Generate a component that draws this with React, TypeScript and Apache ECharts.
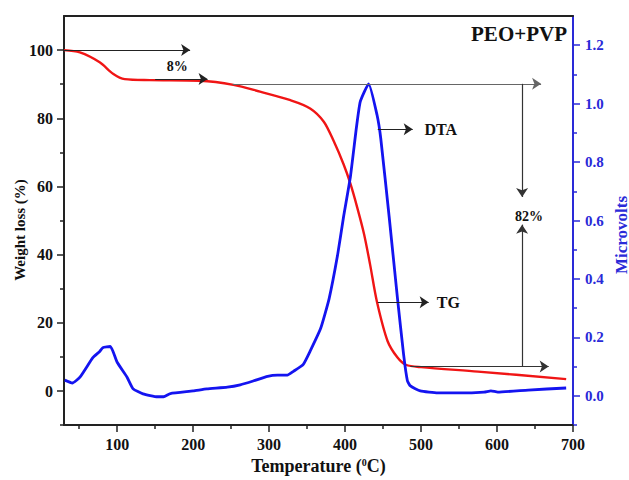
import React, { useEffect, useRef } from "react";
import * as echarts from "echarts";

// TG curve (weight %, left axis)
const tgTemp = [30, 51, 77, 95, 110, 143, 209, 253, 288, 328, 354, 372, 385, 398, 407, 416, 425, 433, 442, 456, 469, 480, 500, 575, 691];
const tgWeight = [100, 99.3, 96.4, 93, 91.5, 91.2, 91, 89.8, 87.8, 85.3, 82.9, 79.0, 73.3, 66.5, 60.8, 53.8, 46.0, 37.0, 26.1, 14.6, 9.8, 7.7, 7.0, 5.7, 3.5];

// DTA curve (microvolts, right axis)
const dtaTemp = [31, 41, 51, 68, 77, 81, 91, 100, 113, 121, 134, 153, 161, 170, 200, 218, 245, 262, 279, 298, 311, 324, 332, 345, 354, 368, 379, 390, 398, 407, 415, 420, 431, 442, 447, 458, 469, 477, 482, 486, 499, 522, 552, 583, 592, 601, 641, 691];
const dtaValue = [0.054, 0.044, 0.064, 0.131, 0.152, 0.165, 0.169, 0.115, 0.064, 0.024, 0.007, -0.003, -0.003, 0.008, 0.017, 0.024, 0.03, 0.038, 0.051, 0.067, 0.071, 0.071, 0.084, 0.108, 0.153, 0.232, 0.333, 0.48, 0.613, 0.75, 0.92, 1.007, 1.068, 0.962, 0.88, 0.613, 0.333, 0.142, 0.052, 0.034, 0.017, 0.01, 0.01, 0.013, 0.017, 0.013, 0.02, 0.027];

// tick labels
const xTicks = [100, 200, 300, 400, 500, 600, 700];
const xMinorTicks = [50, 150, 250, 350, 450, 550, 650];
const leftTicks = [0, 20, 40, 60, 80, 100];
const leftMinorTicks = [-10, 10, 30, 50, 70, 90];
const rightTicks = [0, 0.2, 0.4, 0.6, 0.8, 1.0, 1.2];
const rightMinorTicks = [-0.1, 0.1, 0.3, 0.5, 0.7, 0.9, 1.1];

// annotation arrows in (temperature, weight %) coordinates
const arrowStarts = [[30, 100], [150, 91.5], [252, 90.1], [633, 90.1], [633, 7.2], [486, 7.2], [443, 76.8], [443, 26]];
const arrowEnds = [[196, 100], [219, 91.5], [658, 90.1], [633, 56.9], [633, 48.8], [668, 7.2], [489, 76.8], [510, 26]];
const arrowColors = ["#222", "#222", "#666", "#333", "#333", "#333", "#222", "#222"];

// annotation texts
const noteTexts = ["8%", "DTA", "TG", "82%"];
const notePos = [[179, 95.3], [526, 76.8], [536, 26.0], [642, 51.1]];
const noteSizes = [14, 16, 16, 14];

const FONT = '"Liberation Serif", "Times New Roman", serif';
const BLUE_AXIS = "#2a2ad8";
const BLUE_LINE = "#1414f0";
const RED_LINE = "#f01515";

export default function App() {
  const ref = useRef<HTMLDivElement>(null);

  useEffect(() => {
    document.body.style.margin = "0";
    if (!ref.current) return;
    const chart = echarts.init(ref.current, null, { renderer: "svg" });

    const blackLabel = { fontFamily: FONT, fontWeight: "bold", fontSize: 16, color: "#111" };

    const option: any = {
      animation: false,
      backgroundColor: "#fff",
      title: {
        text: "PEO+PVP",
        right: 57,
        top: 18,
        textStyle: { fontFamily: FONT, fontWeight: "bold", fontSize: 21, color: "#111" },
      },
      grid: { left: 64, right: 56, top: 16, bottom: 48 },
      xAxis: [
        {
          type: "value",
          min: 30,
          max: 700,
          position: "bottom",
          axisLine: { onZero: false, lineStyle: { color: "#222", width: 2 } },
          axisTick: { customValues: xTicks, length: 7, lineStyle: { color: "#222", width: 1.5 } },
          axisLabel: { customValues: xTicks, margin: 11, ...blackLabel },
          splitLine: { show: false },
          name: "{a|Temperature (}{s|0}{a|C)}",
          nameLocation: "middle",
          nameGap: 26,
          nameTextStyle: {
            rich: {
              a: { fontFamily: FONT, fontWeight: "bold", fontSize: 18, color: "#111" },
              s: { fontFamily: FONT, fontWeight: "bold", fontSize: 10, color: "#111", verticalAlign: "top" },
            },
          },
        },
        {
          type: "value",
          min: 30,
          max: 700,
          position: "bottom",
          axisLine: { show: false, onZero: false },
          axisTick: { customValues: xMinorTicks, length: 4, lineStyle: { color: "#222", width: 1.5 } },
          axisLabel: { show: false },
          splitLine: { show: false },
        },
        {
          type: "value",
          min: 30,
          max: 700,
          position: "top",
          axisLine: { onZero: false, lineStyle: { color: "#222", width: 2 } },
          axisTick: { show: false },
          axisLabel: { show: false },
          splitLine: { show: false },
        },
      ],
      yAxis: [
        {
          type: "value",
          min: -10,
          max: 110,
          position: "left",
          axisLine: { show: true, onZero: false, lineStyle: { color: "#222", width: 2 } },
          axisTick: { show: true, customValues: leftTicks, length: 7, lineStyle: { color: "#222", width: 1.5 } },
          axisLabel: { customValues: leftTicks, margin: 11, ...blackLabel },
          splitLine: { show: false },
        },
        {
          type: "value",
          min: -10,
          max: 110,
          position: "left",
          axisLine: { show: false, onZero: false },
          axisTick: { show: true, customValues: leftMinorTicks, length: 4, lineStyle: { color: "#222", width: 1.5 } },
          axisLabel: { show: false },
          splitLine: { show: false },
        },
        {
          type: "value",
          min: -0.1,
          max: 1.3,
          position: "right",
          axisLine: { show: true, onZero: false, lineStyle: { color: BLUE_AXIS, width: 2 } },
          axisTick: { show: true, customValues: rightTicks, length: 7, lineStyle: { color: BLUE_AXIS, width: 1.5 } },
          axisLabel: {
            customValues: rightTicks,
            margin: 12,
            fontFamily: FONT,
            fontWeight: "bold",
            fontSize: 15,
            color: BLUE_AXIS,
            formatter: (v: number) => v.toFixed(1),
          },
          splitLine: { show: false },
        },
        {
          type: "value",
          min: -0.1,
          max: 1.3,
          position: "right",
          axisLine: { show: false, onZero: false },
          axisTick: { show: true, customValues: rightMinorTicks, length: 4, lineStyle: { color: BLUE_AXIS, width: 1.5 } },
          axisLabel: { show: false },
          splitLine: { show: false },
        },
      ],
      graphic: [
        {
          type: "text",
          x: 20,
          y: 230,
          rotation: Math.PI / 2,
          style: {
            text: "Weight loss (%)",
            font: `bold 15px ${FONT}`,
            fill: "#111",
            align: "center",
            verticalAlign: "middle",
          },
        },
        {
          type: "text",
          x: 621,
          y: 235,
          rotation: Math.PI / 2,
          style: {
            text: "Microvolts",
            font: `bold 17px ${FONT}`,
            fill: BLUE_AXIS,
            align: "center",
            verticalAlign: "middle",
          },
        },
      ],
      series: [
        {
          name: "TG",
          type: "line",
          xAxisIndex: 0,
          yAxisIndex: 0,
          data: tgTemp.map((t, i) => [t, tgWeight[i]]),
          showSymbol: false,
          smooth: 0.3,
          lineStyle: { color: RED_LINE, width: 2.4 },
          itemStyle: { color: RED_LINE },
          z: 3,
          markLine: {
            silent: true,
            symbol: ["none", "arrow"],
            symbolSize: 9,
            label: { show: false },
            data: arrowStarts.map((s, i) => [
              { coord: s, lineStyle: { color: arrowColors[i], width: 1.2, type: "solid" }, itemStyle: { color: "#111" } },
              { coord: arrowEnds[i] },
            ]),
          },
          markPoint: {
            silent: true,
            symbol: "circle",
            symbolSize: 1,
            itemStyle: { color: "rgba(0,0,0,0)" },
            data: noteTexts.map((txt, i) => ({
              name: txt,
              coord: notePos[i],
              label: {
                show: true,
                position: "inside",
                formatter: txt,
                fontFamily: FONT,
                fontWeight: "bold",
                fontSize: noteSizes[i],
                color: "#111",
              },
            })),
          },
        },
        {
          name: "DTA",
          type: "line",
          xAxisIndex: 0,
          yAxisIndex: 2,
          data: dtaTemp.map((t, i) => [t, dtaValue[i]]),
          showSymbol: false,
          smooth: 0.15,
          lineStyle: { color: BLUE_LINE, width: 2.8 },
          itemStyle: { color: BLUE_LINE },
          z: 4,
        },
      ],
    };

    chart.setOption(option);
    return () => chart.dispose();
  }, []);

  return (
    <div
      ref={ref}
      style={{ position: "fixed", left: 0, top: 0, width: 629, height: 480, background: "#fff" }}
    />
  );
}
